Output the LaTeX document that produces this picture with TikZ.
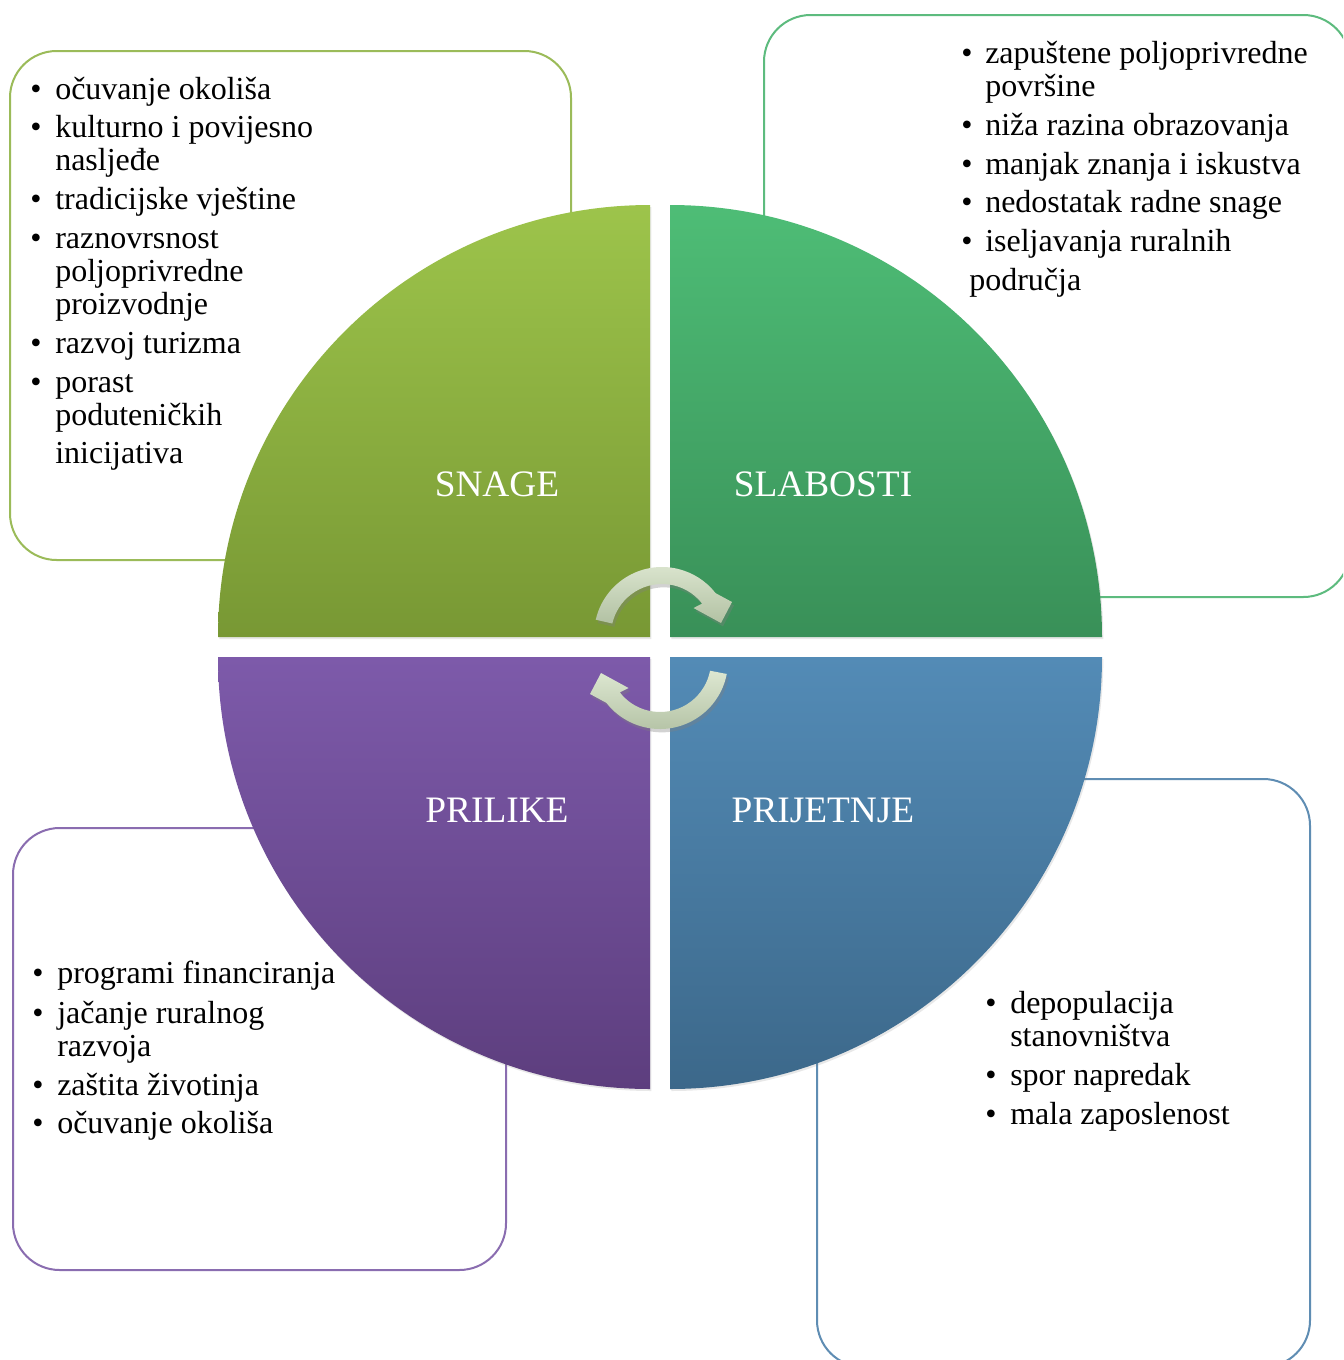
\documentclass[tikz,border=0pt]{standalone}
\usepackage{fontspec}
\setmainfont{Liberation Serif}
\usetikzlibrary{shadows}
\definecolor{snTop}{HTML}{9DC44B}
\definecolor{snBot}{HTML}{789834}
\definecolor{slTop}{HTML}{4EBD76}
\definecolor{slBot}{HTML}{399058}
\definecolor{prTop}{HTML}{7D5AAA}
\definecolor{prBot}{HTML}{5D3E7E}
\definecolor{pjTop}{HTML}{538BB6}
\definecolor{pjBot}{HTML}{3C688A}
\definecolor{snLine}{HTML}{9BBB59}
\definecolor{slLine}{HTML}{5DBB7E}
\definecolor{prLine}{HTML}{8A6DB0}
\definecolor{pjLine}{HTML}{5F8DB3}
\definecolor{arTop}{HTML}{DDE7D1}
\definecolor{arBot}{HTML}{B2C1A3}
\newcommand\tline[4]{\node[txt] (#1) at (#2,-#3) {#4};}
\newcommand\tbul[3]{\node[bul] (#1) at (#2,-#3) {\textbullet};}
\begin{document}
\begin{tikzpicture}[x=0.75pt,y=0.75pt,
  txt/.style={anchor=base west, inner sep=0pt, font=\fontsize{24}{25}\selectfont},
  bul/.style={anchor=base, inner sep=0pt, font=\fontsize{24}{25}\selectfont},
  qlabel/.style={text=white, inner sep=0pt, font=\fontsize{28}{30}\selectfont},
  listbox/.style={line width=1.5pt, rounded corners=35pt},
  quad/.style={drop shadow={shadow xshift=1pt, shadow yshift=-1.5pt, opacity=0.18}},
  arrowshape/.style={top color=arTop, bottom color=arBot,
     drop shadow={shadow xshift=1.5pt, shadow yshift=-2.5pt, opacity=0.35}}]
\useasboundingbox (0,0) rectangle (1343,-1360);
\fill[white] (0,0) rectangle (1343,-1360);
% list boxes
\begin{scope}
\clip (0,0) rectangle (1343,-1360);
\draw[listbox, snLine] (10,-51) rectangle (571,-560);
\draw[listbox, slLine] (764,-15) rectangle (1350,-597);
\draw[listbox, prLine] (13,-828) rectangle (506,-1270);
\draw[listbox, pjLine] (817,-779) rectangle (1310,-1367);
\end{scope}
% quadrants
\path[quad, top color=snTop, bottom color=snBot]
  (650,-637) -- (218,-637) arc[start angle=180, end angle=90, radius=432] -- cycle;
\path[quad, top color=slTop, bottom color=slBot]
  (670,-637) -- (670,-205) arc[start angle=90, end angle=0, radius=432] -- cycle;
\path[quad, top color=prTop, bottom color=prBot]
  (650,-657) -- (650,-1089) arc[start angle=270, end angle=180, radius=432] -- cycle;
\path[quad, top color=pjTop, bottom color=pjBot]
  (670,-657) -- (1102,-657) arc[start angle=0, end angle=-90, radius=432] -- cycle;
% cycle arrows
\path[arrowshape] (595.74,-619.70) arc[start angle=167, end angle=38, radius=68]
  -- (732,-602) -- (721,-623) -- (693.5,-608) -- (702.19,-603.60)
  arc[start angle=38, end angle=167, radius=51] -- cycle;
\path[arrowshape] (726.75,-673.97) arc[start angle=-11, end angle=-142, radius=68]
  -- (590,-694) -- (601,-673) -- (628.5,-688) -- (619.8,-692.4)
  arc[start angle=-142, end angle=-11, radius=51] -- cycle;
% quadrant labels
\node[qlabel] (snage) at (497,-484) {SNAGE};
\node[qlabel] (slabosti) at (823,-484) {SLABOSTI};
\node[qlabel] (prilike) at (497,-810) {PRILIKE};
\node[qlabel] (prijetnje) at (823,-810) {PRIJETNJE};
% SNAGE list
\tbul{sb1}{36}{99}  \tline{s1}{55}{99}{očuvanje okoliša}
\tbul{sb2}{36}{137} \tline{s2}{55}{137}{kulturno i povijesno}
\tline{s3}{55}{170}{nasljeđe}
\tbul{sb4}{36}{209} \tline{s4}{55}{209}{tradicijske vještine}
\tbul{sb5}{36}{248} \tline{s5}{55}{248}{raznovrsnost}
\tline{s6}{55}{281}{poljoprivredne}
\tline{s7}{55}{314}{proizvodnje}
\tbul{sb8}{36}{353} \tline{s8}{55}{353}{razvoj turizma}
\tbul{sb9}{36}{392} \tline{s9}{55}{392}{porast}
\tline{s10}{55}{425}{poduteničkih}
\tline{s11}{55}{463}{inicijativa}
% SLABOSTI list
\tbul{wb1}{967}{63}  \tline{w1}{985}{63}{zapuštene poljoprivredne}
\tline{w2}{985}{96}{površine}
\tbul{wb3}{967}{135} \tline{w3}{985}{135}{niža razina obrazovanja}
\tbul{wb4}{967}{174} \tline{w4}{985}{174}{manjak znanja i iskustva}
\tbul{wb5}{967}{212} \tline{w5}{985}{212}{nedostatak radne snage}
\tbul{wb6}{967}{251} \tline{w6}{985}{251}{iseljavanja ruralnih}
\tline{w7}{969}{290}{područja}
% PRILIKE list
\tbul{ob1}{38}{983}  \tline{o1}{57}{983}{programi financiranja}
\tbul{ob2}{38}{1023} \tline{o2}{57}{1023}{jačanje ruralnog}
\tline{o3}{57}{1056}{razvoja}
\tbul{ob4}{38}{1095} \tline{o4}{57}{1095}{zaštita životinja}
\tbul{ob5}{38}{1133} \tline{o5}{57}{1133}{očuvanje okoliša}
% PRIJETNJE list
\tbul{tb1}{991}{1013} \tline{t1}{1010}{1013}{depopulacija}
\tline{t2}{1010}{1046}{stanovništva}
\tbul{tb3}{991}{1085} \tline{t3}{1010}{1085}{spor napredak}
\tbul{tb4}{991}{1124} \tline{t4}{1010}{1124}{mala zaposlenost}
\end{tikzpicture}
\end{document}
